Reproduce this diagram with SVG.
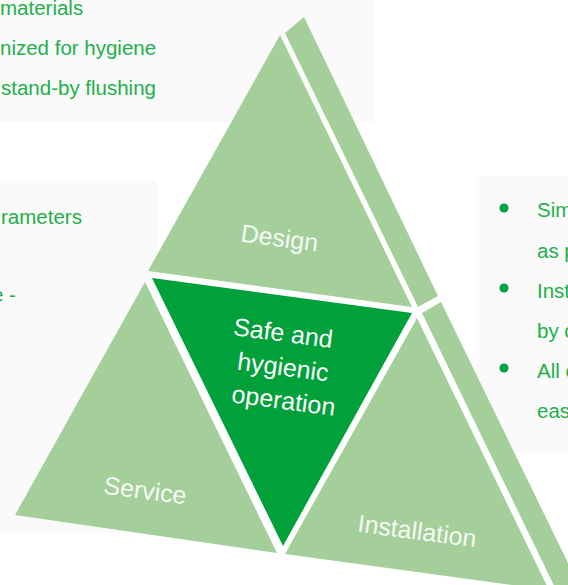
<svg xmlns="http://www.w3.org/2000/svg" width="568" height="585" viewBox="0 0 568 585">
<defs>
<style>
.panel{fill:#fafafa}
.pt{font-family:"Liberation Sans",Arial,sans-serif;font-size:20.5px;fill:#22b04b}
.bul{fill:#00a03c}
.light{fill:#a4cf9b}
.dark{fill:#00a13a}
.lbl{font-family:"Liberation Sans",Arial,sans-serif;font-size:25px;fill:#ffffff;text-anchor:middle}
.lbll{fill-opacity:0.92}
</style>
</defs>
<rect width="568" height="585" fill="#ffffff"/>
<g id="panels">
<rect class="panel" x="0" y="0" width="374" height="122"/>
<rect class="panel" x="0" y="180" width="157" height="353"/>
<rect class="panel" x="476" y="176" width="92" height="277"/>
</g>
<g id="panel-top-text">
<text class="pt" x="0" y="15">materials</text>
<text class="pt" x="0" y="55">nized for hygiene</text>
<text class="pt" x="1" y="95">stand-by flushing</text>
</g>
<g id="panel-left-text">
<text class="pt" x="1" y="224">rameters</text>
<text class="pt" x="-8" y="302">e -</text>
</g>
<g id="panel-right-text">
<circle class="bul" cx="504" cy="208" r="4.5"/>
<circle class="bul" cx="504" cy="288" r="4.5"/>
<circle class="bul" cx="504" cy="368" r="4.5"/>
<text class="pt" x="537" y="217">Sim</text>
<text class="pt" x="537" y="258">as p</text>
<text class="pt" x="537" y="298">Inst</text>
<text class="pt" x="537" y="338">by c</text>
<text class="pt" x="537" y="378">All c</text>
<text class="pt" x="537" y="418">eas</text>
</g>
<g id="strip">
<polygon class="light" points="285,33 304,17 438,296 418,307"/>
<polygon class="light" points="422,313 441,302 586,600 561,600"/>
</g>
<g id="design">
<polygon class="light" points="280,35 148,271 412,307"/>
<text class="lbl lbll" x="278.5" y="246.5" transform="rotate(7.5 278.5 246.5)">Design</text>
</g>
<g id="service">
<polygon class="light" points="145,282 15,515 277,553"/>
<text class="lbl lbll" x="144" y="499" transform="rotate(7.5 144 499)">Service</text>
</g>
<g id="installation">
<polygon class="light" points="417,318 285,554 549,590"/>
<text class="lbl lbll" x="416" y="539.5" transform="rotate(7.5 416 539.5)">Installation</text>
</g>
<g id="safe-hygienic-operation">
<polygon class="dark" points="152,278 412,313 283,546"/>
<text class="lbl" x="282" y="341.5" transform="rotate(7.5 282 341.5)">Safe and</text>
<text class="lbl" x="282" y="375.5" transform="rotate(7.5 282 375.5)">hygienic</text>
<text class="lbl" x="282.5" y="409" transform="rotate(7.5 282.5 409)">operation</text>
</g>
<g id="connectors"/>
</svg>
